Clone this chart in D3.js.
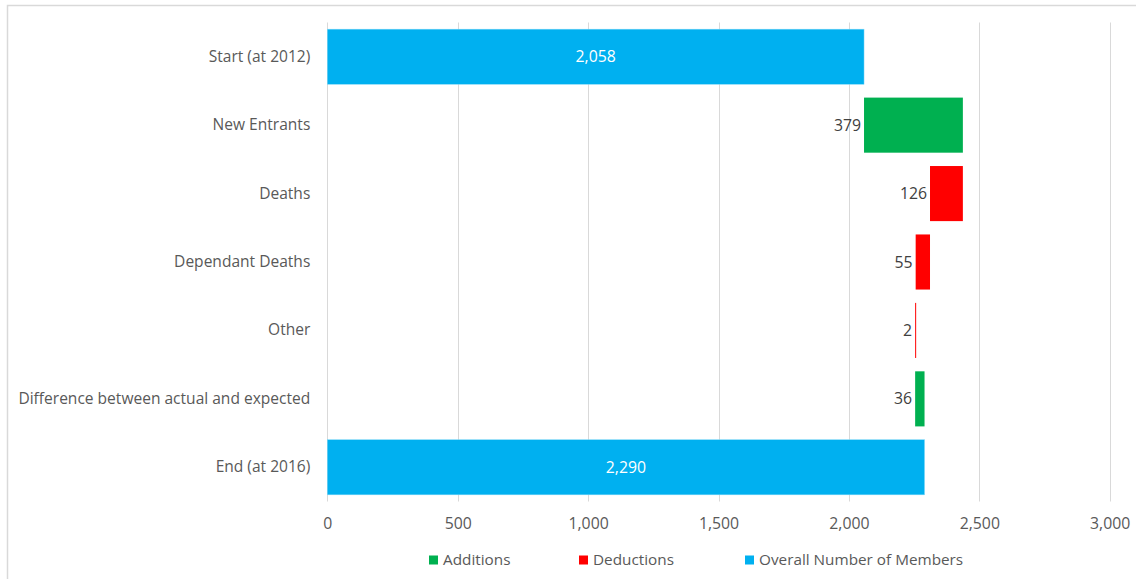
<!DOCTYPE html>
<html>
<head>
<meta charset="utf-8">
<script src="https://cdn.jsdelivr.net/npm/d3@7/dist/d3.min.js"></script>
<style>
  html, body { margin: 0; padding: 0; background: #fff; }
  svg { display: block; font-family: "Open Sans", Lato, sans-serif; }
</style>
</head>
<body>
<svg id="chart" width="1136" height="579"></svg>
<script>
// Membership movements, 2012 to 2016
const categories = [
  "Start (at 2012)",
  "New Entrants",
  "Deaths",
  "Dependant Deaths",
  "Other",
  "Difference between actual and expected",
  "End (at 2016)"
];
// kind: "total" bars start at zero, "add"/"deduct" float on the running total
const kinds = ["total", "add", "deduct", "deduct", "deduct", "add", "total"];
const values = [2058, 379, 126, 55, 2, 36, 2290];
const xTicks = [0, 500, 1000, 1500, 2000, 2500, 3000];
const legendLabels = ["Additions", "Deductions", "Overall Number of Members"];

const colors = { add: "#00B050", deduct: "#FF0000", total: "#00B0F0" };
const legendKinds = ["add", "deduct", "total"];
const FONT = "'Open Sans', Lato, sans-serif";
const FS = 15.8;

// running total -> start/end of each bar
let running = 0;
const rows = categories.map((c, i) => {
  const k = kinds[i], v = values[i];
  let x0, x1;
  if (k === "total") { x0 = 0; x1 = v; running = v; }
  else if (k === "add") { x0 = running; x1 = running + v; running = x1; }
  else { x1 = running; x0 = running - v; running = x0; }
  return { cat: c, kind: k, value: v, x0, x1 };
});

const svg = d3.select("#chart");
const margin = { left: 327.3, right: 26.3, top: 22.5, bottom: 77.5 };
const W = 1136, H = 579;

// outer frame
svg.append("rect")
  .attr("x", 7.5).attr("y", 5.5)
  .attr("width", W + 10).attr("height", H + 10)
  .attr("fill", "none").attr("stroke", "#d9d9d9").attr("stroke-width", 1.5);

const x = d3.scaleLinear().domain([0, 3000]).range([margin.left, W - margin.right]);
const y = d3.scaleBand().domain(categories)
  .range([margin.top, H - margin.bottom])
  .paddingInner(0.195).paddingOuter(0.0975);

// vertical gridlines
svg.append("g")
  .selectAll("line")
  .data(xTicks)
  .join("line")
  .attr("x1", d => Math.round(x(d)) + 0.5).attr("x2", d => Math.round(x(d)) + 0.5)
  .attr("y1", margin.top).attr("y2", H - margin.bottom)
  .attr("stroke", "#d9d9d9").attr("stroke-width", 1);

// x axis tick labels
const xAxis = d3.axisBottom(x).tickValues(xTicks).tickSize(0).tickPadding(0)
  .tickFormat(d3.format(","));
const gx = svg.append("g")
  .attr("transform", `translate(0,${H - margin.bottom + 27})`)
  .call(xAxis)
  .attr("font-family", FONT).attr("font-size", FS);
gx.select(".domain").remove();
gx.selectAll("text").attr("fill", "#595959").attr("dy", "0");

// category labels
const yAxis = d3.axisLeft(y).tickSize(0).tickPadding(17);
const gy = svg.append("g")
  .attr("transform", `translate(${margin.left},0)`)
  .call(yAxis)
  .attr("font-family", FONT).attr("font-size", 15.55);
gy.select(".domain").remove();
gy.selectAll("text").attr("fill", "#595959");

// bars
svg.append("g")
  .selectAll("rect")
  .data(rows)
  .join("rect")
  .attr("x", d => x(d.x0))
  .attr("y", d => y(d.cat))
  .attr("width", d => Math.max(1, x(d.x1) - x(d.x0)))
  .attr("height", y.bandwidth())
  .attr("fill", d => colors[d.kind])
  .attr("stroke", d => d.kind === "total" ? "#7fd7f7" : "none")
  .attr("stroke-width", 0.5);

// value labels
const fmt = d3.format(",");
svg.append("g")
  .selectAll("text")
  .data(rows)
  .join("text")
  .attr("x", d => d.kind === "total" ? (x(d.x0) + x(d.x1)) / 2 : x(d.x0) - 3)
  .attr("y", d => y(d.cat) + y.bandwidth() / 2)
  .attr("dy", "0.35em")
  .attr("text-anchor", d => d.kind === "total" ? "middle" : "end")
  .attr("fill", d => d.kind === "total" ? "#ffffff" : "#404040")
  .attr("font-size", FS)
  .text(d => fmt(d.value));

// legend
const legendX = [429, 579, 745];
const lg = svg.append("g").selectAll("g")
  .data(legendKinds)
  .join("g")
  .attr("transform", (d, i) => `translate(${legendX[i]},555.5)`);
lg.append("rect").attr("width", 9).attr("height", 9).attr("fill", d => colors[d]);
lg.append("text")
  .attr("x", 14).attr("y", 4.5).attr("dy", "0.35em")
  .attr("fill", "#595959").attr("font-size", 15.3)
  .text((d, i) => legendLabels[i]);
</script>
</body>
</html>
